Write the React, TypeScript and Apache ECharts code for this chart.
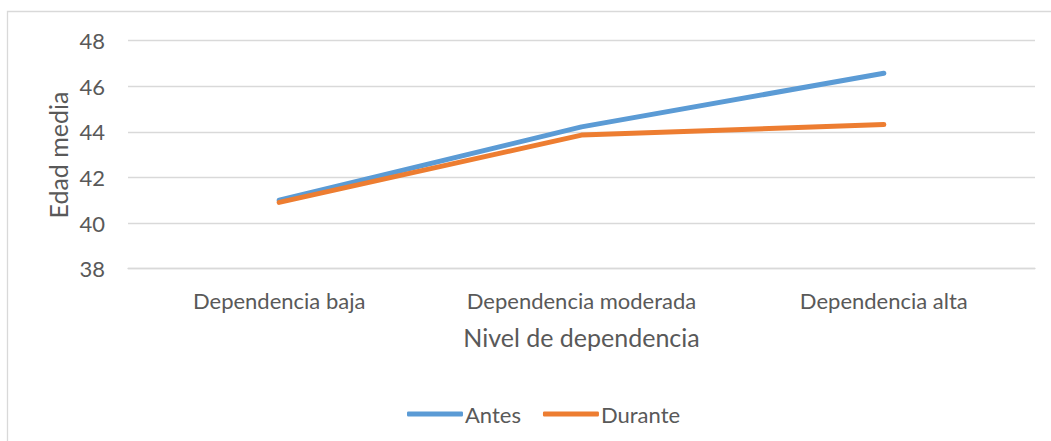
import React, { useEffect, useRef } from "react";
import * as echarts from "echarts";

const categories = ["Dependencia baja", "Dependencia moderada", "Dependencia alta"];
const antes = [41.0, 44.22, 46.57];
const durante = [40.91, 43.86, 44.32];
const yTicks = { min: 38, max: 48, interval: 2 };
const yTitle = "Edad media";
const xTitle = "Nivel de dependencia";

const FONT = "Lato, 'Open Sans', sans-serif";

export default function App() {
  const ref = useRef<HTMLDivElement>(null);
  useEffect(() => {
    if (!ref.current) return;
    const chart = echarts.init(ref.current, undefined, { renderer: "svg" });
    chart.setOption({
      animation: false,
      backgroundColor: "#ffffff",
      textStyle: { fontFamily: FONT },
      graphic: [
        {
          type: "rect",
          shape: { x: 7.5, y: 11.5, width: 1200, height: 600 },
          style: { fill: "none", stroke: "#d9d9d9", lineWidth: 1.3 },
          silent: true,
        },
        {
          type: "text",
          x: 58,
          y: 155,
          rotation: Math.PI / 2,
          style: {
            text: yTitle,
            fill: "#595959",
            fontSize: 25,
            fontFamily: FONT,
            align: "center",
            verticalAlign: "middle",
          },
          silent: true,
        },
      ],
      grid: { left: 128, right: 16, top: 40.7, bottom: 172.3, containLabel: false },
      legend: {
        left: 402,
        top: 398,
        icon: "roundRect",
        itemWidth: 56,
        itemHeight: 5,
        itemGap: 22,
        textStyle: { fontFamily: FONT, fontSize: 22, color: "#595959", padding: [0, 0, 0, -3] },
        data: ["Antes", "Durante"],
      },
      xAxis: {
        type: "category",
        data: categories,
        boundaryGap: true,
        axisTick: { show: false },
        axisLine: { show: true, lineStyle: { color: "#d9d9d9", width: 1.3 } },
        axisLabel: { color: "#595959", fontSize: 22, fontFamily: FONT, margin: 21 },
        name: xTitle,
        nameLocation: "middle",
        nameGap: 56,
        nameTextStyle: { color: "#595959", fontSize: 25, fontFamily: FONT },
      },
      yAxis: {
        type: "value",
        min: yTicks.min,
        max: yTicks.max,
        interval: yTicks.interval,
        axisLine: { show: false },
        axisTick: { show: false },
        splitLine: { lineStyle: { color: "#d9d9d9", width: 1.3 } },
        axisLabel: { color: "#595959", fontSize: 22, fontFamily: FONT, margin: 23 },
      },
      series: [
        {
          name: "Antes",
          type: "line",
          data: antes,
          symbol: "none",
          lineStyle: { color: "#5B9BD5", width: 5, cap: "round", join: "round" },
          itemStyle: { color: "#5B9BD5" },
        },
        {
          name: "Durante",
          type: "line",
          data: durante,
          symbol: "none",
          lineStyle: { color: "#ED7D31", width: 5, cap: "round", join: "round" },
          itemStyle: { color: "#ED7D31" },
        },
      ],
    });
    return () => chart.dispose();
  }, []);
  return (
    <div
      ref={ref}
      style={{ position: "fixed", left: 0, top: 0, width: 1051, height: 441 }}
    />
  );
}
